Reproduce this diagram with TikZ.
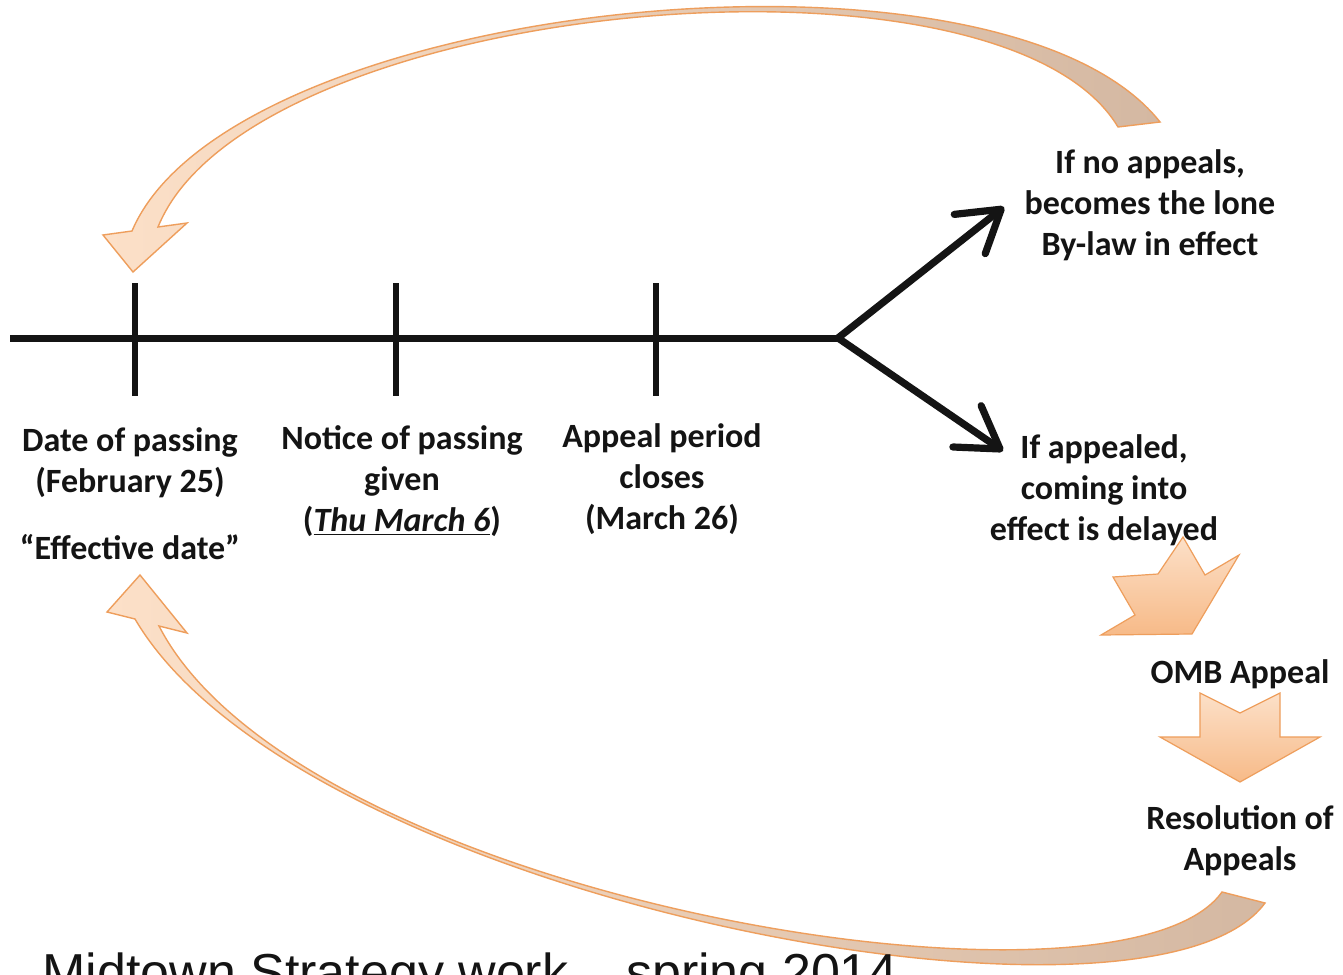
\documentclass[tikz,border=0pt]{standalone}
\usepackage{fontspec}
\setmainfont{Carlito}
\newfontfamily\footfont{Liberation Sans}
\usetikzlibrary{arrows.meta}
\definecolor{peachlt}{RGB}{252,224,200}
\definecolor{peachdk}{RGB}{247,186,136}
\definecolor{tanc}{RGB}{212,184,162}
\definecolor{edgeor}{RGB}{238,158,92}
\definecolor{ink}{RGB}{20,20,20}
\begin{document}
\begin{tikzpicture}[x=0.5pt,y=-0.5pt,
  lbl/.style={font=\bfseries\fontsize{17}{20.5}\selectfont, align=center, inner sep=0pt, anchor=base, text=ink},
  tline/.style={line width=3.5pt, draw=ink},
  tickmark/.style={line width=2.6pt, draw=ink},
  branch/.style={line width=3.6pt, draw=ink, -{Straight Barb[length=20pt,width=25pt,round]}},
  blob/.style={draw=edgeor, line width=0.6pt, top color=peachlt, bottom color=peachdk},
  curvy/.style={draw=edgeor, line width=0.7pt, left color=peachlt, right color=tanc},
]
\useasboundingbox (0,0) rectangle (1343,974);
\clip (0,0) rectangle (1343,974);
\fill[white] (0,0) rectangle (1343,974);

% curved return arrows
\path[curvy] (133,272) -- (103,235) -- (132,231)
  .. controls (230,0) and (1000,-80) .. (1160,122) -- (1118,127)
  .. controls (1000,-70) and (250,0) .. (158,227) -- (187,223) -- cycle;
\path[curvy] (140,575) -- (107,612) -- (135,619)
  .. controls (300,900) and (1150,1060) .. (1265,903) -- (1222,892)
  .. controls (1120,1035) and (300,900) .. (159,626) -- (187,633) -- cycle;

% notched block arrows
\path[blob] (1113,577) -- (1158,574) -- (1183,537) -- (1205,575) -- (1239,555)
  -- (1192,634) -- (1101,635) -- (1135,615) -- cycle;
\path[blob] (1200,693) -- (1240,713) -- (1280,693) -- (1280,737) -- (1320,737)
  -- (1240,782) -- (1160,737) -- (1200,737) -- cycle;

% timeline
\coordinate (tl0) at (10,338);
\coordinate (fork) at (838,338);
\coordinate (t1a) at (135,283); \coordinate (t1b) at (135,396);
\coordinate (t2a) at (396,283); \coordinate (t2b) at (396,396);
\coordinate (t3a) at (656,283); \coordinate (t3b) at (656,396);
\coordinate (tipA) at (1004,207);
\coordinate (tipB) at (1003,451);
\draw[tline] (tl0) -- (fork);
\draw[tickmark] (t1a) -- (t1b);
\draw[tickmark] (t2a) -- (t2b);
\draw[tickmark] (t3a) -- (t3b);
\draw[branch] (fork) -- (tipA);
\draw[branch] (fork) -- (tipB);

% labels
\node[lbl] (pass) at (130,492) {Date of passing\\(February 25)};
\node[lbl] (eff) at (130,559) {“Effective date”};
\node[lbl] (notice) at (402,531) {Notice of passing\\given\\(\underline{\textit{Thu March 6}})};
\node[lbl] (close) at (662,529) {Appeal period\\closes\\(March 26)};
\node[lbl] (noapp) at (1150,255) {If no appeals,\\becomes the lone\\By-law in effect};
\node[lbl] (appd) at (1104,540) {If appealed,\\coming into\\effect is delayed};
\node[lbl] (omb) at (1240,683) {OMB Appeal};
\node[lbl] (res) at (1240,870) {Resolution of\\Appeals};

\node[anchor=base west, inner sep=0pt, text=ink, font=\footfont\fontsize{26}{30}\selectfont] (foot) at (42,990) {Midtown Strategy work – spring 2014};
\end{tikzpicture}
\end{document}
